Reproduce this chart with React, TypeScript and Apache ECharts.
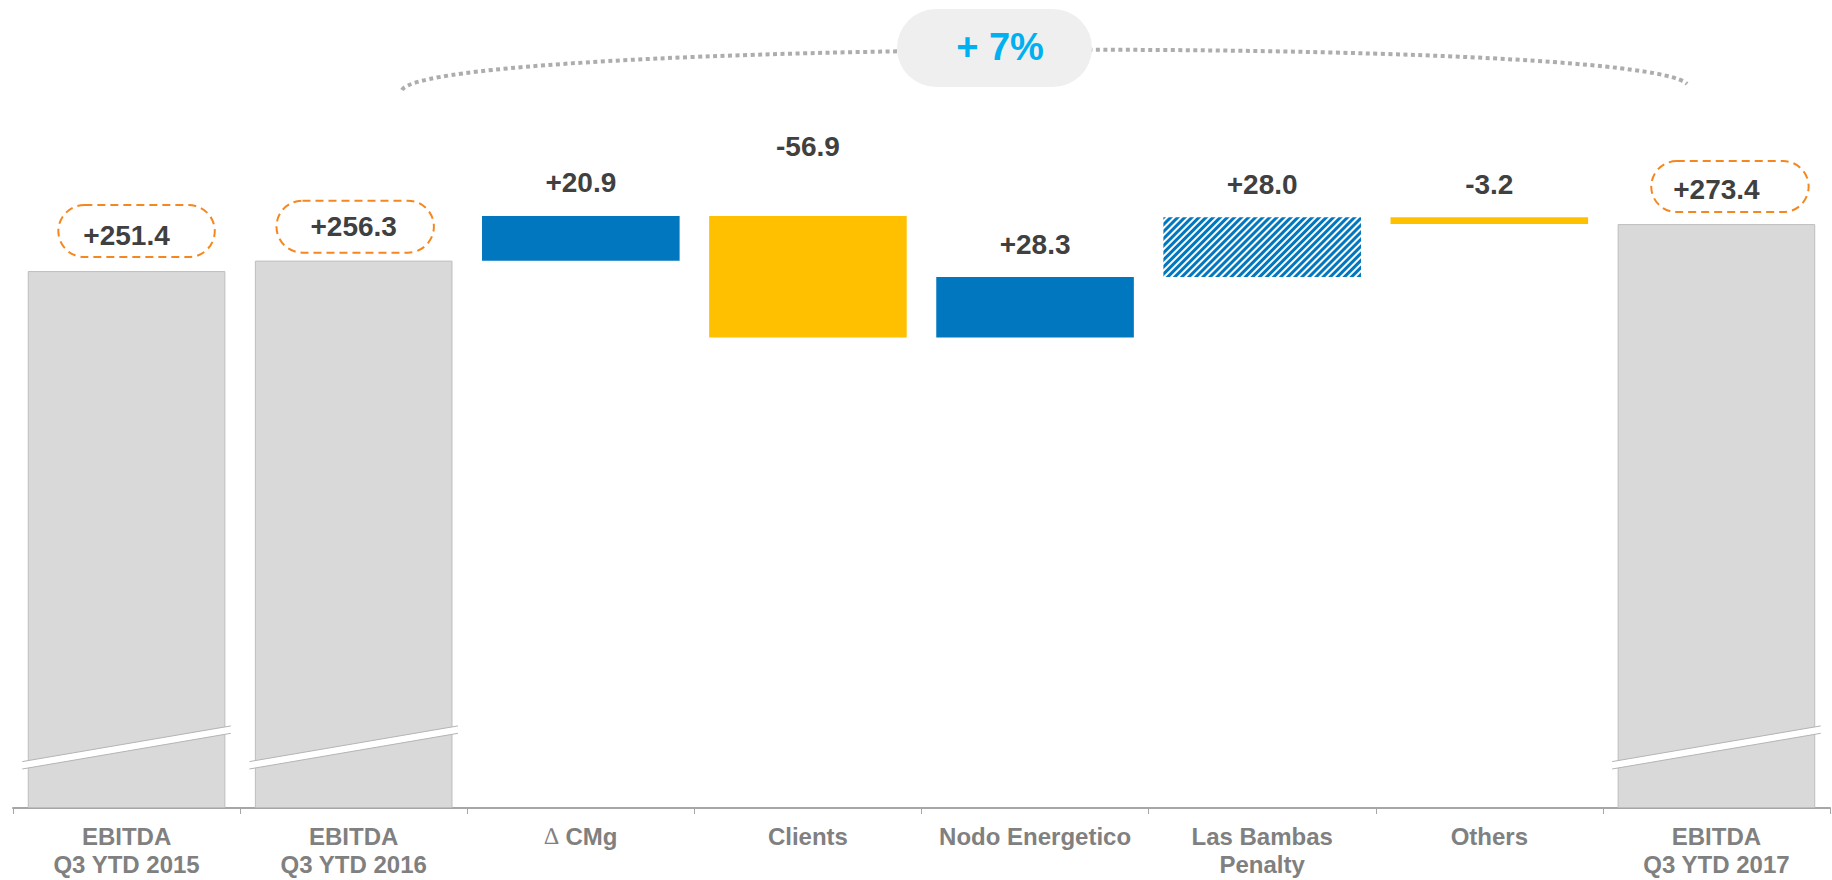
import React, { useEffect, useRef } from 'react';
import * as echarts from 'echarts';

const categories = [
  'EBITDA\nQ3 YTD 2015',
  'EBITDA\nQ3 YTD 2016',
  '∆ CMg',
  'Clients',
  'Nodo Energetico',
  'Las Bambas\nPenalty',
  'Others',
  'EBITDA\nQ3 YTD 2017',
];
const totals: (number | null)[] = [251.4, 256.3, null, null, null, null, null, 273.4];
const deltas: (number | null)[] = [null, null, 20.9, -56.9, 28.3, 28.0, -3.2, null];
const hatched = [false, false, false, false, false, true, false, false];
const growthText = '+ 7%';
// break-mark band: value at its left end and right end, on the total bars
const breakCategories = [0, 1, 7];
const breakBandValues = [20.0, 36.7];

const FONT = '"Liberation Sans", Arial, Helvetica, sans-serif';
const BLUE = '#0077BF';
const YELLOW = '#FFC000';
const GREY = '#D9D9D9';
const ORANGE = '#F5871F';

// label box tuning for the total bars (padding [t, r, b, l], distance, x offset)
const totalLabelBox: Record<number, { padding: number[]; distance: number; offset: number }> = {
  0: { padding: [16, 45, 8, 25], distance: 14, offset: 10 },
  1: { padding: [12, 37, 12, 34], distance: 8, offset: 1.5 },
  7: { padding: [14, 49, 9, 22], distance: 12, offset: 13.5 },
};

function buildOption(): any {
  let running = 0;
  const base: (number | string)[] = [];
  const heights: any[] = [];
  categories.forEach((_, i) => {
    const t = totals[i];
    if (t != null) {
      running = t;
      base.push(0);
      heights.push('-');
      return;
    }
    const d = deltas[i] as number;
    const start = running;
    const end = running + d;
    base.push(Math.min(start, end));
    const item: any = {
      value: Math.abs(d),
      itemStyle: hatched[i]
        ? {
            color: '#FFFFFF',
            decal: {
              symbol: 'rect',
              symbolSize: 1,
              color: BLUE,
              dashArrayX: [1, 0],
              dashArrayY: [2.4, 1.8],
              rotation: -Math.PI / 4,
            },
          }
        : { color: d >= 0 ? BLUE : YELLOW },
      label: { distance: d < -50 ? 55 : 19 },
    };
    heights.push(item);
    running = end;
  });

  const totalData = totals.map((t, i) => {
    if (t == null) return '-';
    const box = totalLabelBox[i] || { padding: [12, 36, 12, 36], distance: 12, offset: 0 };
    return {
      value: t,
      label: { padding: box.padding, distance: box.distance, offset: [box.offset, 0] },
    };
  });

  const labelText = {
    fontFamily: FONT,
    fontSize: 28,
    fontWeight: 'bold',
    color: '#404040',
    lineHeight: 28,
  };

  const catStyle = {
    fontFamily: FONT,
    fontSize: 24,
    fontWeight: 'bold',
    color: '#808080',
    lineHeight: 28,
  };

  return {
    animation: false,
    grid: {
      left: 13,
      right: 2,
      top: 167.3,
      bottom: 72,
      containLabel: false,
      outerBoundsMode: 'none',
    },
    xAxis: {
      type: 'category',
      data: categories,
      axisLine: { lineStyle: { color: '#A6A6A6', width: 2 } },
      axisTick: { show: true, length: 6, lineStyle: { color: '#A6A6A6', width: 1 } },
      axisLabel: {
        interval: 0,
        margin: 14,
        ...catStyle,
        formatter: (v: string) => v.replace('∆', '{d|∆}'),
        rich: {
          d: { ...catStyle, fontWeight: 'normal', fontFamily: '"Liberation Serif", "DejaVu Serif", serif', fontSize: 24 },
        },
      },
    },
    yAxis: {
      type: 'value',
      min: 0,
      max: 300,
      show: false,
      splitLine: { show: false },
    },
    series: [
      {
        type: 'bar',
        stack: 'wf',
        barCategoryGap: '13%',
        data: base,
        itemStyle: { color: 'rgba(0,0,0,0)' },
        silent: true,
        label: { show: false },
      },
      {
        type: 'bar',
        stack: 'wf',
        data: totalData,
        itemStyle: { color: GREY, borderColor: '#BDBDBD', borderWidth: 1 },
        label: {
          show: true,
          position: 'top',
          ...labelText,
          formatter: (p: any) => '+' + Number(p.value).toFixed(1),
          borderColor: ORANGE,
          borderWidth: 2,
          borderType: [8, 5],
          borderRadius: 26,
        },
      },
      {
        type: 'bar',
        stack: 'wf',
        data: heights,
        label: {
          show: true,
          position: 'top',
          ...labelText,
          formatter: (p: any) => {
            const d = deltas[p.dataIndex] as number;
            return (d > 0 ? '+' : '') + d.toFixed(1);
          },
        },
      },
      {
        type: 'custom',
        z: 5,
        silent: true,
        encode: { x: 0, y: [1, 2] },
        data: breakCategories.map((c) => [c, breakBandValues[0], breakBandValues[1]]),
        renderItem: (params: any, api: any) => {
          const c = api.value(0);
          const pl = api.coord([c, api.value(1)]);
          const pr = api.coord([c, api.value(2)]);
          const bw = api.size([1, 0])[0] * 0.87;
          const ext = 5.5;
          const x1 = pl[0] - bw / 2 - ext;
          const x2 = pl[0] + bw / 2 + ext;
          const y1 = pl[1];
          const y2 = pr[1];
          const th = 7.4;
          return {
            type: 'group',
            children: [
              {
                type: 'polygon',
                shape: {
                  points: [
                    [x1, y1 - th / 2],
                    [x2, y2 - th / 2],
                    [x2, y2 + th / 2],
                    [x1, y1 + th / 2],
                  ],
                },
                style: { fill: '#FFFFFF' },
              },
              {
                type: 'line',
                shape: { x1, y1: y1 - th / 2, x2, y2: y2 - th / 2 },
                style: { stroke: '#B4B4B4', lineWidth: 1 },
              },
              {
                type: 'line',
                shape: { x1, y1: y1 + th / 2, x2, y2: y2 + th / 2 },
                style: { stroke: '#B4B4B4', lineWidth: 1 },
              },
            ],
          };
        },
      },
    ],
    graphic: [
      {
        type: 'bezierCurve',
        z: 1,
        silent: true,
        shape: { x1: 402, y1: 90, cpx1: 430, cpy1: 40, cpx2: 1640, cpy2: 35, x2: 1687, y2: 84 },
        style: { stroke: '#ADADAD', lineWidth: 4, lineDash: [4, 3.5], fill: null },
      },
      {
        type: 'rect',
        z: 2,
        silent: true,
        shape: { x: 897, y: 9, width: 195, height: 78, r: 39 },
        style: { fill: '#EFEFEF' },
      },
      {
        type: 'text',
        z: 3,
        silent: true,
        x: 1000,
        y: 47,
        style: {
          text: growthText,
          fill: '#00B0F0',
          fontFamily: FONT,
          fontSize: 38,
          fontWeight: 'bold',
          align: 'center',
          verticalAlign: 'middle',
        },
      },
    ],
  };
}

export default function App() {
  const ref = useRef<HTMLDivElement>(null);
  useEffect(() => {
    if (!ref.current) return;
    const chart = echarts.init(ref.current, undefined, { renderer: 'svg' });
    chart.setOption(buildOption());
    return () => chart.dispose();
  }, []);
  return (
    <div
      ref={ref}
      style={{ position: 'absolute', left: 0, top: 0, width: 1832, height: 880, background: '#FFFFFF' }}
    />
  );
}
